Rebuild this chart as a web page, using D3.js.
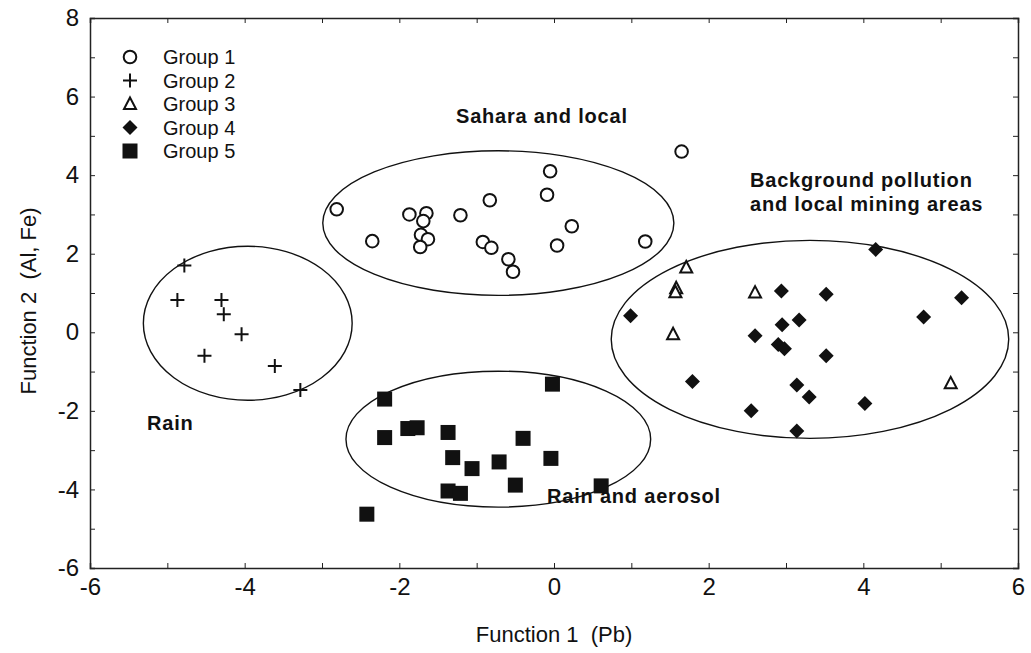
<!DOCTYPE html>
<html>
<head>
<meta charset="utf-8">
<script src="https://cdn.jsdelivr.net/npm/d3@7"></script>
<style>
  body { margin: 0; background: #fff; }
  text { font-family: "Liberation Sans", Arial, sans-serif; fill: #111; }
</style>
</head>
<body>
<div id="chart"></div>
<script>
// discriminant scores
let group1 = [[-2.81,3.13],[-2.35,2.32],[-1.87,3.0],[-1.65,3.03],[-1.69,2.83],[-1.72,2.48],[-1.63,2.37],[-1.73,2.17],
  [-1.21,2.98],[-0.83,3.36],[-0.92,2.30],[-0.81,2.15],[-0.59,1.86],[-0.53,1.54],[-0.09,3.50],[-0.05,4.10],
  [0.04,2.21],[0.23,2.70],[1.18,2.31],[1.65,4.60]]
let group2 = [[-4.78,1.70],[-4.87,0.82],[-4.30,0.82],[-4.27,0.46],[-4.04,-0.05],[-4.52,-0.60],[-3.61,-0.86],[-3.28,-1.47]]
let group3 = [[1.71,1.65],[1.58,1.12],[1.57,1.02],[2.60,1.01],[1.54,-0.05],[5.13,-1.30]]
let group4 = [[4.16,2.11],[2.94,1.05],[3.52,0.97],[5.27,0.88],[0.99,0.42],[4.78,0.39],[3.17,0.31],[2.95,0.19],
  [2.60,-0.09],[2.90,-0.31],[2.98,-0.42],[3.52,-0.60],[1.79,-1.25],[3.14,-1.34],[3.30,-1.65],[4.02,-1.81],
  [2.55,-2.0],[3.14,-2.51]]
let group5 = [[-2.19,-1.70],[-2.19,-2.68],[-1.89,-2.45],[-1.77,-2.43],[-1.37,-2.55],[-1.31,-3.19],[-1.06,-3.47],
  [-1.37,-4.04],[-1.21,-4.10],[-0.71,-3.30],[-0.50,-3.89],[-0.40,-2.70],[-0.04,-3.21],[-0.02,-1.32],
  [0.61,-3.91],[-2.42,-4.63]]

let groupNames = ["Group 1", "Group 2", "Group 3", "Group 4", "Group 5"]

// cluster ellipses: centre x, centre y, radius x, radius y (data units)
let ellipses = [[-0.72,2.78,2.27,1.84],[-3.96,0.23,1.35,1.96],[-0.72,-2.72,1.97,1.73],[3.31,-0.18,2.57,2.52]]

let xTicks = d3.range(-6, 7, 1)
let yTicks = d3.range(-6, 9, 1)

let width = 1031
let height = 653
let margin = {top: 18, right: 13, bottom: 85, left: 90}

let svg = d3.select("#chart")
    .append("svg")
    .attr("width", width)
    .attr("height", height)

let x = d3.scaleLinear().domain([-6, 6]).range([margin.left, width - margin.right])
let y = d3.scaleLinear().domain([-6, 8]).range([height - margin.bottom, margin.top])

let fmt = d => (d % 2 === 0 ? d : "")

// axes, ticks pointing inward
svg.append("g")
    .attr("transform", `translate(0,${y(-6)})`)
    .call(d3.axisBottom(x).tickValues(xTicks).tickSize(-5).tickPadding(10).tickFormat(fmt))
    .call(g => g.selectAll("text").style("font-size", "24px"))
svg.append("g")
    .attr("transform", `translate(0,${y(8)})`)
    .call(d3.axisTop(x).tickValues(xTicks).tickSize(-5).tickFormat(""))
svg.append("g")
    .attr("transform", `translate(${x(-6)},0)`)
    .call(d3.axisLeft(y).tickValues(yTicks).tickSize(-5).tickPadding(11).tickFormat(fmt))
    .call(g => g.selectAll("text").style("font-size", "24px"))
svg.append("g")
    .attr("transform", `translate(${x(6)},0)`)
    .call(d3.axisRight(y).tickValues(yTicks).tickSize(-5).tickFormat(""))

svg.selectAll(".domain").attr("stroke", "#222").attr("stroke-width", 1.5)
svg.selectAll(".tick line").attr("stroke", "#222")

svg.append("text")
    .attr("x", (x(-6) + x(6)) / 2)
    .attr("y", 642)
    .attr("text-anchor", "middle")
    .style("font-size", "22px")
    .text("Function 1\u00a0 (Pb)")

svg.append("text")
    .attr("transform", `translate(36,${(y(8) + y(-6)) / 2 + 8}) rotate(-90)`)
    .attr("text-anchor", "middle")
    .style("font-size", "22px")
    .text("Function 2\u00a0 (Al, Fe)")

// ellipses
svg.selectAll("ellipse.cluster")
    .data(ellipses)
    .enter()
    .append("ellipse")
    .attr("class", "cluster")
    .attr("cx", d => x(d[0]))
    .attr("cy", d => y(d[1]))
    .attr("rx", d => x(d[2]) - x(0))
    .attr("ry", d => y(0) - y(d[3]))
    .attr("fill", "none")
    .attr("stroke", "#111")
    .attr("stroke-width", 1.4)

// cluster labels
let labels = [
    {t: ["Sahara and local"], x: 456, y: 123},
    {t: ["Background pollution", "and local mining areas"], x: 750, y: 187},
    {t: ["Rain"], x: 147, y: 430},
    {t: ["Rain and aerosol"], x: 547, y: 503}
]
labels.forEach(l => {
    let t = svg.append("text")
        .attr("x", l.x)
        .attr("y", l.y)
        .style("font-size", "20px")
        .style("letter-spacing", "0.8px")
        .style("font-weight", "bold")
    l.t.forEach((s, i) => t.append("tspan").attr("x", l.x).attr("dy", i === 0 ? 0 : 24).text(s))
})

// marker drawers
function drawMarker(g, k) {
    if (k === 0) {
        g.append("circle").attr("r", 6.3).attr("fill", "#fff").attr("stroke", "#111").attr("stroke-width", 2)
    } else if (k === 1) {
        g.append("path").attr("d", "M-7,0H7M0,-7V7").attr("stroke", "#111").attr("stroke-width", 2)
    } else if (k === 2) {
        g.append("path").attr("d", "M0,-6.5L6,5L-6,5Z").attr("fill", "#fff").attr("stroke", "#111").attr("stroke-width", 2)
    } else if (k === 3) {
        g.append("path").attr("d", "M0,-7.5L7.5,0L0,7.5L-7.5,0Z").attr("fill", "#111")
    } else {
        g.append("rect").attr("x", -7.5).attr("y", -7.5).attr("width", 15).attr("height", 15).attr("fill", "#111")
    }
}

let groups = [group1, group2, group3, group4, group5]
groups.forEach((pts, k) => {
    svg.append("g").selectAll("g")
        .data(pts)
        .enter()
        .append("g")
        .attr("transform", d => `translate(${x(d[0])},${y(d[1])})`)
        .each(function() { drawMarker(d3.select(this), k) })
})

// legend
let legend = svg.append("g")
groupNames.forEach((name, k) => {
    let row = legend.append("g").attr("transform", `translate(130,${57 + k * 23.5})`)
    drawMarker(row, k)
    row.append("text")
        .attr("x", 33)
        .attr("y", 7)
        .style("font-size", "20px")
        .text(name)
})
</script>
</body>
</html>
